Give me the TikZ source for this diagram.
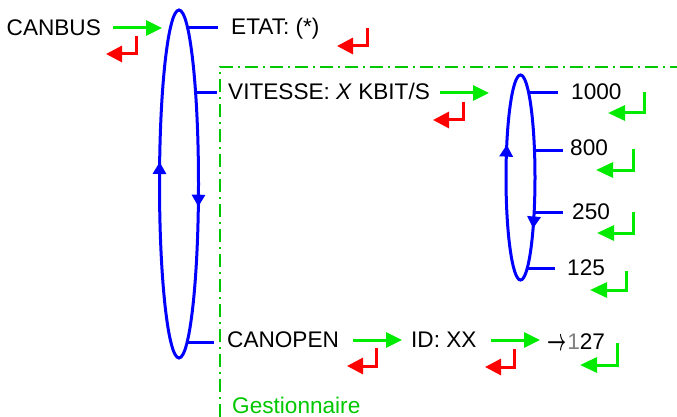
\documentclass[tikz,border=0pt]{standalone}
\usepackage{graphicx}
\usepackage{amsmath}
\usepackage{fontspec}
\setmainfont{Liberation Sans}
\usetikzlibrary{arrows.meta,decorations.markings}
\definecolor{lgreen}{RGB}{0,235,0}
\definecolor{dgreen}{RGB}{0,200,0}
\definecolor{bblue}{RGB}{0,0,255}
\definecolor{rred}{RGB}{255,0,0}
\tikzset{
  txt/.style={anchor=base west,inner sep=0pt,font=\fontsize{22.6}{26}\selectfont},
  garrow/.style={draw=lgreen,line width=3pt,-{Triangle[length=16pt,width=15pt]}},
  gret/.style={draw=lgreen,line width=3pt,-{Triangle[length=17pt,width=15pt]}},
  rret/.style={draw=rred,line width=3pt,-{Triangle[length=16pt,width=16pt]}},
  bline/.style={draw=bblue,line width=3pt},
  frame/.style={draw=dgreen,line width=1.5pt,dash pattern=on 13pt off 5pt on 2pt off 5pt},
}
\begin{document}
\begin{tikzpicture}[x=1pt,y=-1pt]
\useasboundingbox (0,0) rectangle (677,417);
% frame
\coordinate (fA) at (220,417);
\coordinate (fB) at (220,67);
\coordinate (fC) at (677,67);
\draw[frame] (fA) -- (fB) -- (fC);
% big ellipse
\draw[bline,decoration={markings,
   mark=at position 0.032 with {\arrow{Triangle[length=12pt,width=13pt]}},
   mark=at position 0.531 with {\arrow{Triangle[length=12pt,width=13pt]}}},postaction={decorate}]
   (179,184) ellipse [x radius=19.5,y radius=174];
% small ellipse
\draw[bline,decoration={markings,
   mark=at position 0.121 with {\arrow{Triangle[length=12pt,width=13pt]}},
   mark=at position 0.578 with {\arrow{Triangle[length=12pt,width=13pt]}}},postaction={decorate}]
   (520.5,177.5) ellipse [x radius=14.5,y radius=102.5];
% texts
\node[txt] (canbus) at (6.5,36) {CANBUS};
\node[txt] (etat) at (231,34.5) {ETAT: (*)};
\node[txt] (vit) at (228,99.5) {VITESSE: \textit{X} KBIT/S};
\node[txt] (v1000) at (571,99.5) {1000};
\node[txt] (v800) at (570,156) {800};
\node[txt] (v250) at (572,219) {250};
\node[txt] (v125) at (567,275) {125};
\node[txt] (canopen) at (227,347) {CANOPEN};
\node[txt] (id) at (411,347) {ID: XX};
\node[txt] (max) at (547,349) {\raisebox{-1.5pt}{\scalebox{0.8}[1.5]{$\boldsymbol{\rightarrow}$}}\kern1pt{\color{gray}1}27};
\node[txt,text=dgreen] (gest) at (232,413) {Gestionnaire};
% blue branch lines
\coordinate (b1s) at (189,28); \coordinate (b1e) at (218,28);
\coordinate (b2s) at (196,93); \coordinate (b2e) at (217,93);
\coordinate (b3s) at (187,342); \coordinate (b3e) at (214,342);
\draw[bline] (b1s) -- (b1e);
\draw[bline] (b2s) -- (b2e);
\draw[bline] (b3s) -- (b3e);
\coordinate (s1s) at (529,93); \coordinate (s1e) at (558,93);
\coordinate (s2s) at (534.5,150); \coordinate (s2e) at (563,150);
\coordinate (s3s) at (534,212); \coordinate (s3e) at (563,212);
\coordinate (s4s) at (527,268); \coordinate (s4e) at (555,268);
\draw[bline] (s1s) -- (s1e);
\draw[bline] (s2s) -- (s2e);
\draw[bline] (s3s) -- (s3e);
\draw[bline] (s4s) -- (s4e);
% green forward arrows
\coordinate (g1s) at (113,28); \coordinate (g1e) at (162,28);
\coordinate (g2s) at (440,93); \coordinate (g2e) at (489,93);
\coordinate (g3s) at (353,340); \coordinate (g3e) at (402,340);
\coordinate (g4s) at (491,340); \coordinate (g4e) at (540,340);
\draw[garrow] (g1s) -- (g1e);
\draw[garrow] (g2s) -- (g2e);
\draw[garrow] (g3s) -- (g3e);
\draw[garrow] (g4s) -- (g4e);
% red return arrows
\coordinate (r1s) at (136,36); \coordinate (r1e) at (106,54);
\coordinate (r2s) at (367,28); \coordinate (r2e) at (337,46);
\coordinate (r3s) at (463,102); \coordinate (r3e) at (433,120);
\coordinate (r4s) at (376,348); \coordinate (r4e) at (347,366);
\coordinate (r5s) at (514,349); \coordinate (r5e) at (485,367);
\draw[rret] (r1s) |- (r1e);
\draw[rret] (r2s) |- (r2e);
\draw[rret] (r3s) |- (r3e);
\draw[rret] (r4s) |- (r4e);
\draw[rret] (r5s) |- (r5e);
% green return arrows
\coordinate (q1s) at (644,92); \coordinate (q1e) at (608,113);
\coordinate (q2s) at (633,149); \coordinate (q2e) at (596,170);
\coordinate (q3s) at (633,212); \coordinate (q3e) at (597,233);
\coordinate (q4s) at (626,271); \coordinate (q4e) at (590,290);
\coordinate (q5s) at (617,343); \coordinate (q5e) at (580,365);
\draw[gret] (q1s) |- (q1e);
\draw[gret] (q2s) |- (q2e);
\draw[gret] (q3s) |- (q3e);
\draw[gret] (q4s) |- (q4e);
\draw[gret] (q5s) |- (q5e);
\end{tikzpicture}
\end{document}
